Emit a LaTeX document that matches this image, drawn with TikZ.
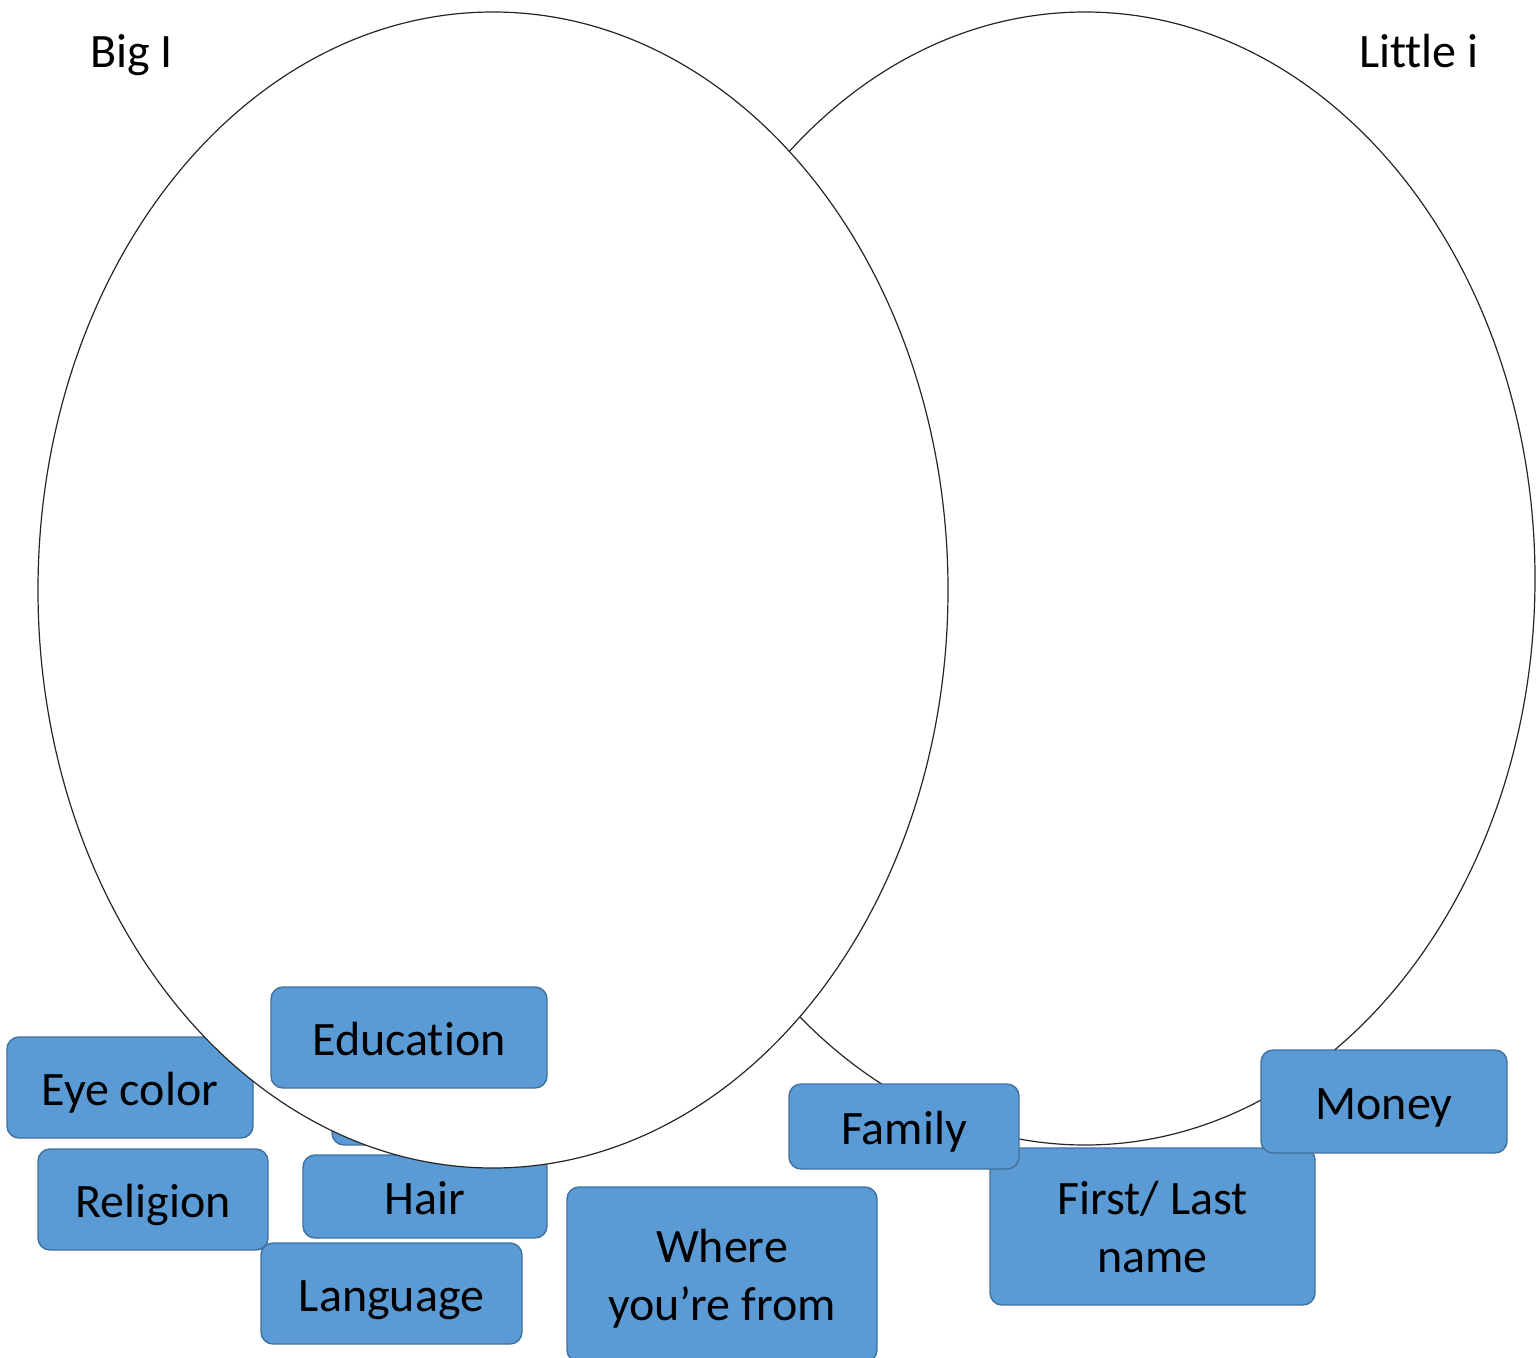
\documentclass[tikz,border=0pt]{standalone}
\usepackage{fontspec}
\setmainfont{Carlito}[Ligatures=NoCommon]
\usetikzlibrary{positioning}
\definecolor{boxblue}{HTML}{5B9BD5}
\definecolor{boxline}{HTML}{41719C}

\begin{document}
\begin{tikzpicture}[x=0.5pt,y=-0.5pt,
    tag/.style={draw=boxline,fill=boxblue,rounded corners=6pt,line width=0.7pt,
      font=\fontsize{24}{29}\selectfont,align=center,inner sep=0pt,
      text height=22pt,text depth=4.5pt},
    tagtwo/.style={tag,text height=50.5pt,text depth=4.5pt},
    title/.style={font=\fontsize{24}{29}\selectfont,inner sep=0pt},
    venn/.style={draw=black!85,fill=white,line width=0.6pt}]
    \useasboundingbox (0,0) rectangle (1536,1358);

    % little i circle and the tags sitting on it
    \draw[venn] (1085,578.5) ellipse [x radius=225pt, y radius=283.25pt];
    \node[tagtwo,minimum width=162.5pt,minimum height=78.5pt] (name) at (1152.5,1226.5) {First/ Last\\name};
    \node[tag,minimum width=115pt,minimum height=42.5pt] (family) at (904,1126.5) {Family};
    \node[tag,minimum width=123pt,minimum height=51.5pt] (money) at (1384,1101.5) {Money};

    % tags tucked under the big I circle
    \node[tag,minimum width=104pt,minimum height=42.5pt] (blank) at (436,1102.5) {};
    \node[tag,minimum width=123pt,minimum height=50.5pt] (eye) at (130,1087.5) {Eye color};
    \node[tag,minimum width=122pt,minimum height=41.5pt] (hair) at (425,1196.5) {Hair};

    % big I circle
    \draw[venn] (493,590) ellipse [x radius=227.5pt, y radius=289pt];
    \node[tag,minimum width=138pt,minimum height=50.5pt] (edu) at (409,1037.5) {Education};
    \node[tag,minimum width=115pt,minimum height=50.5pt] (religion) at (153,1199.5) {Religion};
    \node[tag,minimum width=130.5pt,minimum height=50.5pt] (lang) at (391.5,1293.5) {Language};
    \node[tagtwo,minimum width=155pt,minimum height=87.5pt] (from) at (722,1274.5) {Where\\you’re from};

    % titles
    \node[title,anchor=base west] (bigI) at (90,68) {Big I};
    \node[title,anchor=base east] (littlei) at (1479,68) {Little i};
\end{tikzpicture}
\end{document}
